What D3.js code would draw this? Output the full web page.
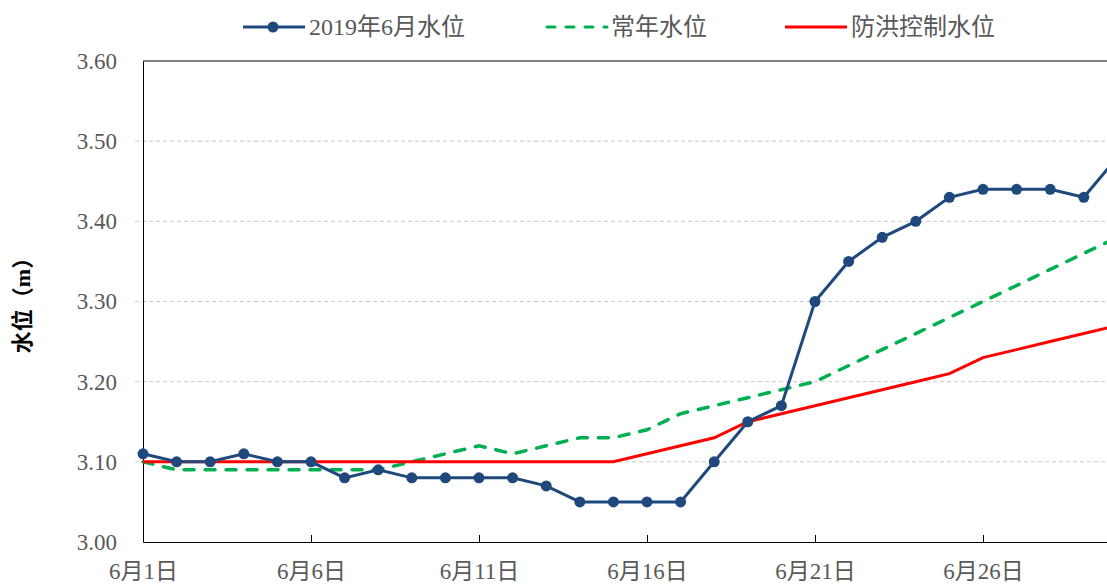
<!DOCTYPE html>
<html>
<head>
<meta charset="utf-8">
<script src="https://d3js.org/d3.v7.min.js"></script>
<style>
  body { margin: 0; background: #fff; }
  text { font-family: "Liberation Serif", "Noto Sans CJK SC", serif; }
</style>
</head>
<body>
<script type="text/javascript">
// data (June, day of month)
let days = [1, 2, 3, 4, 5, 6, 7, 8, 9, 10, 11, 12, 13, 14, 15,
            16, 17, 18, 19, 20, 21, 22, 23, 24, 25, 26, 27, 28, 29, 30];
let level2019 = [3.11, 3.10, 3.10, 3.11, 3.10, 3.10, 3.08, 3.09, 3.08, 3.08,
                 3.08, 3.08, 3.07, 3.05, 3.05, 3.05, 3.05, 3.10, 3.15, 3.17,
                 3.30, 3.35, 3.38, 3.40, 3.43, 3.44, 3.44, 3.44, 3.43, 3.48];
let levelNormal = [3.10, 3.09, 3.09, 3.09, 3.09, 3.09, 3.09, 3.09, 3.10, 3.11,
                   3.12, 3.11, 3.12, 3.13, 3.13, 3.14, 3.16, 3.17, 3.18, 3.19,
                   3.20, 3.22, 3.24, 3.26, 3.28, 3.30, 3.32, 3.34, 3.36, 3.38];
let levelFlood = [3.10, 3.10, 3.10, 3.10, 3.10, 3.10, 3.10, 3.10, 3.10, 3.10,
                  3.10, 3.10, 3.10, 3.10, 3.10, 3.11, 3.12, 3.13, 3.15, 3.16,
                  3.17, 3.18, 3.19, 3.20, 3.21, 3.23, 3.24, 3.25, 3.26, 3.27];
let yTicks = [3.00, 3.10, 3.20, 3.30, 3.40, 3.50, 3.60];
let xTicks = [1, 6, 11, 16, 21, 26];
let seriesNames = ["2019年6月水位", "常年水位", "防洪控制水位"];

let width = 1107, height = 585;
let plotLeft = 143, plotTop = 61, plotBottom = 542;
let dayStep = 33.6;

let svg = d3.select("body").append("svg")
    .attr("width", width)
    .attr("height", height);

let x = d3.scaleLinear().domain([1, 30]).range([plotLeft, plotLeft + 29 * dayStep]);
let y = d3.scaleLinear().domain([3.0, 3.6]).range([plotBottom, plotTop]);

// grid
svg.append("g")
    .selectAll("line")
    .data(yTicks.filter(v => v > 3.0 && v < 3.6))
    .join("line")
        .attr("x1", plotLeft - 8)
        .attr("x2", x(30))
        .attr("y1", d => y(d))
        .attr("y2", d => y(d))
        .attr("stroke", "#c8c8c8")
        .attr("stroke-width", 1)
        .attr("stroke-dasharray", "4,3");

// top frame
svg.append("line")
    .attr("x1", plotLeft).attr("x2", x(30))
    .attr("y1", plotTop).attr("y2", plotTop)
    .attr("stroke", "#000").attr("stroke-width", 1);

// y axis
let yAxis = svg.append("g")
    .attr("transform", `translate(${plotLeft},0)`)
    .call(d3.axisLeft(y).tickValues(yTicks).tickFormat(d3.format(".2f"))
        .tickSize(0).tickPadding(26));
yAxis.select(".domain").attr("stroke", "#000");
yAxis.selectAll("text")
    .attr("font-size", 23)
    .attr("fill", "#595959")
    .style("font-family", "Liberation Serif, serif");

// x axis
let xAxis = svg.append("g")
    .attr("transform", `translate(0,${plotBottom})`)
    .call(d3.axisBottom(x).tickValues(xTicks).tickFormat(d => `6月${d}日`)
        .tickSizeInner(-7).tickSizeOuter(0).tickPadding(21));
xAxis.select(".domain").attr("stroke", "#000");
xAxis.selectAll(".tick line").attr("stroke", "#000");
xAxis.selectAll("text")
    .attr("font-size", 23)
    .attr("fill", "#595959");

// axis title
svg.append("text")
    .attr("transform", "translate(30,300) rotate(-90)")
    .attr("text-anchor", "middle")
    .attr("font-size", 22)
    .attr("font-weight", "bold")
    .attr("fill", "#000")
    .text("水位（m）");

let line = d3.line().x((d, i) => x(days[i])).y(d => y(d));

svg.append("path")
    .attr("d", line(levelNormal))
    .attr("fill", "none")
    .attr("stroke", "#00b050")
    .attr("stroke-width", 3.5)
    .attr("stroke-linecap", "round")
    .attr("stroke-dasharray", "10,11");

svg.append("path")
    .attr("d", line(levelFlood))
    .attr("fill", "none")
    .attr("stroke", "#ff0000")
    .attr("stroke-width", 3);

svg.append("path")
    .attr("d", line(level2019))
    .attr("fill", "none")
    .attr("stroke", "#1f497d")
    .attr("stroke-width", 3);

svg.append("g")
    .selectAll("circle")
    .data(level2019)
    .join("circle")
        .attr("cx", (d, i) => x(days[i]))
        .attr("cy", d => y(d))
        .attr("r", 5.5)
        .attr("fill", "#1f497d");

// legend
let legendItems = [
    {name: seriesNames[0], color: "#1f497d", dash: null, marker: true, x0: 243},
    {name: seriesNames[1], color: "#00b050", dash: "8,11", marker: false, x0: 545},
    {name: seriesNames[2], color: "#ff0000", dash: null, marker: false, x0: 785}
];
let legend = svg.append("g").selectAll("g")
    .data(legendItems)
    .join("g")
        .attr("transform", d => `translate(${d.x0},27)`);
legend.append("line")
    .attr("x1", d => d.dash ? 2 : 0).attr("x2", 62)
    .attr("stroke", d => d.color)
    .attr("stroke-width", 3)
    .attr("stroke-linecap", d => d.dash ? "round" : "butt")
    .attr("stroke-dasharray", d => d.dash);
legend.filter(d => d.marker).append("circle")
    .attr("cx", 30).attr("r", 5.5)
    .attr("fill", d => d.color);
legend.append("text")
    .attr("x", 66)
    .attr("dy", "0.35em")
    .attr("font-size", 24)
    .attr("fill", "#595959")
    .text(d => d.name);
</script>
</body>
</html>
